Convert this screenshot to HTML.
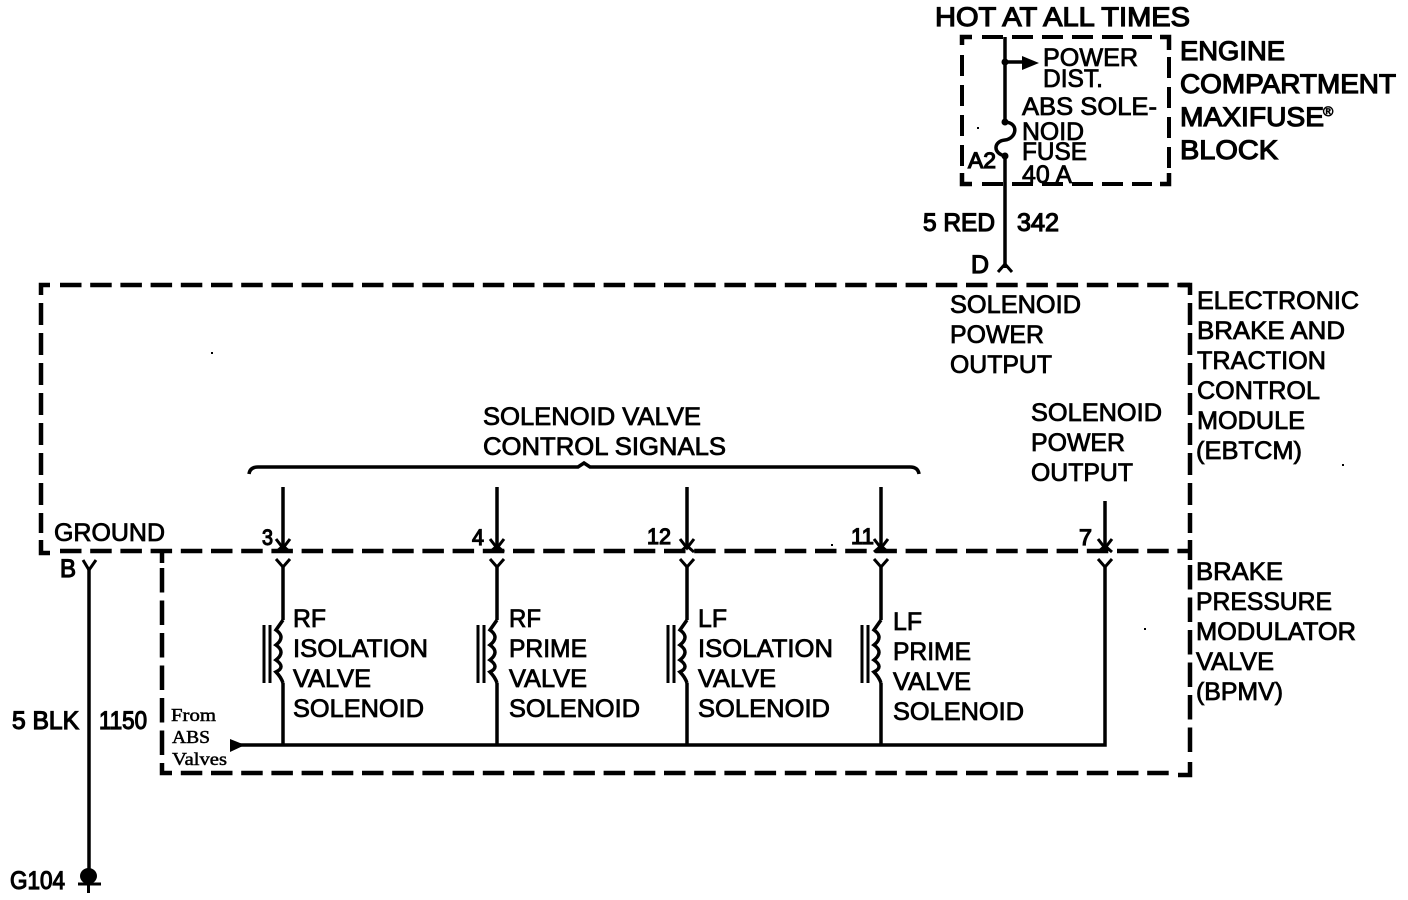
<!DOCTYPE html>
<html><head><meta charset="utf-8"><style>
html,body{margin:0;padding:0;background:#fff;width:1408px;height:900px;overflow:hidden}
svg{display:block}
text{font-family:"Liberation Sans",sans-serif;font-size:25px;fill:#000;stroke:#000;stroke-width:.8}
.b{stroke-width:1.2}
.s{font-family:"Liberation Serif",serif;font-size:18px;stroke-width:.5}
.w{fill:none;stroke:#000;stroke-width:3.5}
.t{fill:none;stroke:#000;stroke-width:3}
.c{fill:none;stroke:#000;stroke-width:4.5}
.h{fill:none;stroke:#000;stroke-width:4.5;stroke-dasharray:21.5 8.7}
.v{fill:none;stroke:#000;stroke-width:4.5;stroke-dasharray:22 8}
.l{fill:none;stroke:#000;stroke-width:4.5;stroke-dasharray:24.500 8}
.m{fill:none;stroke:#000;stroke-width:4;stroke-dasharray:21 9}
</style></head><body>
<svg width="1408" height="900" viewBox="0 0 1408 900" xmlns="http://www.w3.org/2000/svg">
<defs>
<g id="coil">
<path class="w" d="M0 -5L-7 5Q3 12 -7 20Q3 27 -7 35Q3 42 -7 47Q-2 52 0 58"/>
<path class="t" d="M-19 0V58M-13 0V58"/>
</g>
<g id="conn">
<path class="w" d="M0 487V549"/>
<path class="t" d="M-7 539L0 548L7 539M-7 552L0 546L7 552"/>
<path class="t" d="M-7 559L0 567L7 559"/>
<path class="w" d="M0 565V620M0 683V745"/>
</g>
</defs>

<!-- Small box -->
<path class="c" d="M972 37H962V45M962 173V184H972M1160 37H1169V50M1169 173V184H1160"/>
<path class="m" d="M982 37H1152M982 184H1152M962 55V170M1169 57V170"/>

<!-- Big box -->
<path class="c" d="M50 285H41V295M41 540V553H50M1180 285H1190V295M1190 540V560M172 773H162V763M1190 762V775H1178M162 553V563"/>
<path class="h" d="M60 285H1190M60 551H1190M180.800 773H1170"/>
<path class="v" d="M41 303V533M1190 303V533"/>
<path class="l" d="M162 568V757M1190 565V755"/>

<!-- Top feed -->
<path class="w" d="M1005 37V122"/>
<path class="w" d="M1002 62H1026"/>
<path d="M1022 56L1039 63L1022 70Z"/>
<circle cx="1005" cy="62" r="3.500"/>
<circle cx="1005" cy="122" r="3.500"/>
<circle cx="1005" cy="156" r="3.500"/>
<path class="w" d="M1005 122C1020 123 1016 139 1005 140C994 141 992 153 1005 156V268"/>
<path class="t" d="M998 272L1005 264L1012 272"/>

<!-- Ground wire -->
<path class="t" d="M83 560L89 570L96 560"/>
<path class="w" d="M89 569V870"/>
<ellipse cx="88.500" cy="876" rx="8.500" ry="8"/>
<path class="t" d="M78 884H101M88.500 884V893"/>

<!-- Brace -->
<path class="w" d="M249 474Q250 467 258 467H578L584 463L590 467H910Q918 467 919 474"/>

<!-- Connections -->
<use href="#conn" x="283"/>
<use href="#conn" x="497"/>
<use href="#conn" x="687"/>
<use href="#conn" x="881"/>
<path class="w" d="M1105 501V549"/>
<path class="t" d="M1098 539L1105 548L1112 539M1098 552L1105 546L1112 552"/>
<path class="t" d="M1098 559L1105 567L1112 559"/>
<path class="w" d="M1105 565V745H238"/>
<path d="M230 739L245 745L230 752Z"/>

<use href="#coil" x="283" y="625"/>
<use href="#coil" x="497" y="625"/>
<use href="#coil" x="687" y="625"/>
<use href="#coil" x="881" y="625"/>

<!-- Specks -->
<rect x="1144" y="628" width="2" height="2"/>
<rect x="211" y="352" width="2" height="2"/>
<rect x="1342" y="464" width="2" height="2"/>
<rect x="977" y="127" width="2" height="2"/>
<rect x="831" y="544" width="2" height="2"/>

<!-- Labels -->
<text class="b" x="935" y="26" textLength="255" lengthAdjust="spacingAndGlyphs" style="font-size:27px">HOT AT ALL TIMES</text>
<text x="1043" y="66" textLength="95" lengthAdjust="spacingAndGlyphs">POWER</text>
<text x="1043" y="87" textLength="60" lengthAdjust="spacingAndGlyphs">DIST.</text>
<text x="1022" y="115" textLength="135" lengthAdjust="spacingAndGlyphs">ABS SOLE-</text>
<text x="1022" y="140" textLength="62" lengthAdjust="spacingAndGlyphs">NOID</text>
<text x="1022" y="160" textLength="65" lengthAdjust="spacingAndGlyphs">FUSE</text>
<text x="1022" y="183" textLength="50" lengthAdjust="spacingAndGlyphs">40 A</text>
<text class="b" x="968" y="168" textLength="28" lengthAdjust="spacingAndGlyphs" style="font-size:22px">A2</text>

<text class="b" x="1180" y="60" textLength="105" lengthAdjust="spacingAndGlyphs" style="font-size:27px">ENGINE</text>
<text class="b" x="1180" y="93" textLength="216" lengthAdjust="spacingAndGlyphs" style="font-size:27px">COMPARTMENT</text>
<text class="b" x="1180" y="126" textLength="144" lengthAdjust="spacingAndGlyphs" style="font-size:27px">MAXIFUSE</text>
<text x="1323" y="116" style="font-size:14px">®</text>
<text class="b" x="1180" y="159" textLength="98" lengthAdjust="spacingAndGlyphs" style="font-size:27px">BLOCK</text>

<text class="b" x="923" y="231" textLength="72" lengthAdjust="spacingAndGlyphs">5 RED</text>
<text class="b" x="1017" y="231" textLength="42" lengthAdjust="spacingAndGlyphs">342</text>
<text class="b" x="971" y="273" textLength="18" lengthAdjust="spacingAndGlyphs">D</text>

<text x="950" y="313" textLength="131" lengthAdjust="spacingAndGlyphs">SOLENOID</text>
<text x="950" y="343" textLength="94" lengthAdjust="spacingAndGlyphs">POWER</text>
<text x="950" y="373" textLength="102" lengthAdjust="spacingAndGlyphs">OUTPUT</text>

<text x="1197" y="309" textLength="162" lengthAdjust="spacingAndGlyphs">ELECTRONIC</text>
<text x="1197" y="339" textLength="148" lengthAdjust="spacingAndGlyphs">BRAKE AND</text>
<text x="1197" y="369" textLength="129" lengthAdjust="spacingAndGlyphs">TRACTION</text>
<text x="1197" y="399" textLength="123" lengthAdjust="spacingAndGlyphs">CONTROL</text>
<text x="1197" y="429" textLength="108" lengthAdjust="spacingAndGlyphs">MODULE</text>
<text x="1196" y="459" textLength="106" lengthAdjust="spacingAndGlyphs">(EBTCM)</text>

<text x="483" y="425" textLength="218" lengthAdjust="spacingAndGlyphs">SOLENOID VALVE</text>
<text x="483" y="455" textLength="243" lengthAdjust="spacingAndGlyphs">CONTROL SIGNALS</text>

<text x="1031" y="421" textLength="131" lengthAdjust="spacingAndGlyphs">SOLENOID</text>
<text x="1031" y="451" textLength="94" lengthAdjust="spacingAndGlyphs">POWER</text>
<text x="1031" y="481" textLength="102" lengthAdjust="spacingAndGlyphs">OUTPUT</text>

<text x="54" y="541" textLength="111" lengthAdjust="spacingAndGlyphs">GROUND</text>
<text class="b" x="60" y="577" textLength="16" lengthAdjust="spacingAndGlyphs">B</text>

<text class="b" x="262" y="545" textLength="11" lengthAdjust="spacingAndGlyphs" style="font-size:22px">3</text>
<text class="b" x="472" y="545" textLength="12" lengthAdjust="spacingAndGlyphs" style="font-size:22px">4</text>
<text class="b" x="647" y="544" textLength="24" lengthAdjust="spacingAndGlyphs" style="font-size:22px">12</text>
<text class="b" x="851" y="544" textLength="23" lengthAdjust="spacingAndGlyphs" style="font-size:22px">11</text>
<text class="b" x="1079" y="545" textLength="13" lengthAdjust="spacingAndGlyphs" style="font-size:22px">7</text>

<text x="293" y="627" textLength="33" lengthAdjust="spacingAndGlyphs">RF</text>
<text x="293" y="657" textLength="135" lengthAdjust="spacingAndGlyphs">ISOLATION</text>
<text x="293" y="687" textLength="78" lengthAdjust="spacingAndGlyphs">VALVE</text>
<text x="293" y="717" textLength="131" lengthAdjust="spacingAndGlyphs">SOLENOID</text>

<text x="509" y="627" textLength="32" lengthAdjust="spacingAndGlyphs">RF</text>
<text x="509" y="657" textLength="78" lengthAdjust="spacingAndGlyphs">PRIME</text>
<text x="509" y="687" textLength="78" lengthAdjust="spacingAndGlyphs">VALVE</text>
<text x="509" y="717" textLength="131" lengthAdjust="spacingAndGlyphs">SOLENOID</text>

<text x="698" y="627" textLength="29" lengthAdjust="spacingAndGlyphs">LF</text>
<text x="698" y="657" textLength="135" lengthAdjust="spacingAndGlyphs">ISOLATION</text>
<text x="698" y="687" textLength="78" lengthAdjust="spacingAndGlyphs">VALVE</text>
<text x="698" y="717" textLength="132" lengthAdjust="spacingAndGlyphs">SOLENOID</text>

<text x="893" y="630" textLength="29" lengthAdjust="spacingAndGlyphs">LF</text>
<text x="893" y="660" textLength="78" lengthAdjust="spacingAndGlyphs">PRIME</text>
<text x="893" y="690" textLength="78" lengthAdjust="spacingAndGlyphs">VALVE</text>
<text x="893" y="720" textLength="131" lengthAdjust="spacingAndGlyphs">SOLENOID</text>

<text x="1196" y="580" textLength="87" lengthAdjust="spacingAndGlyphs">BRAKE</text>
<text x="1196" y="610" textLength="136" lengthAdjust="spacingAndGlyphs">PRESSURE</text>
<text x="1196" y="640" textLength="160" lengthAdjust="spacingAndGlyphs">MODULATOR</text>
<text x="1196" y="670" textLength="78" lengthAdjust="spacingAndGlyphs">VALVE</text>
<text x="1196" y="700" textLength="87" lengthAdjust="spacingAndGlyphs">(BPMV)</text>

<text class="b" x="12" y="729" textLength="67" lengthAdjust="spacingAndGlyphs">5 BLK</text>
<text class="b" x="99" y="729" textLength="48" lengthAdjust="spacingAndGlyphs">1150</text>
<text class="b" x="10" y="889" textLength="55" lengthAdjust="spacingAndGlyphs">G104</text>

<text class="s" x="171" y="721" textLength="45" lengthAdjust="spacingAndGlyphs">From</text>
<text class="s" x="172" y="743" textLength="38" lengthAdjust="spacingAndGlyphs">ABS</text>
<text class="s" x="172" y="765" textLength="55" lengthAdjust="spacingAndGlyphs">Valves</text>
</svg>
</body></html>
